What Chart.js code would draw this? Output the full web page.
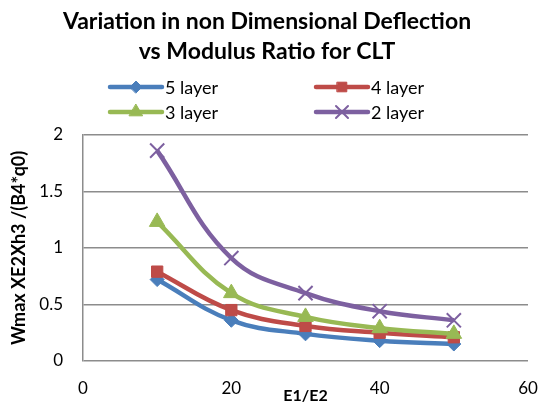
<!DOCTYPE html>
<html>
<head>
<meta charset="utf-8">
<script src="https://cdn.jsdelivr.net/npm/chart.js@4/dist/chart.umd.min.js"></script>
<style>
    html, body { margin: 0; padding: 0; background: #ffffff; }
    #wrap { width: 540px; height: 405px; position: relative; }
</style>
</head>
<body>
<div id="wrap"><canvas id="deflectionChart"></canvas></div>
<script>
// Chart data
const modulusRatio = [10, 20, 30, 40, 50];
const layer5 = [0.72, 0.36, 0.24, 0.18, 0.15];
const layer4 = [0.79, 0.45, 0.31, 0.25, 0.21];
const layer3 = [1.23, 0.60, 0.39, 0.29, 0.24];
const layer2 = [1.86, 0.91, 0.60, 0.44, 0.36];
const seriesNames = ['5 layer', '4 layer', '3 layer', '2 layer'];
const xTicks = [0, 20, 40, 60];
const yTicks = [0, 0.5, 1, 1.5, 2];

const FONT = 'Lato, "Open Sans", sans-serif';

function makeSeries(name, values, color, pointStyle, radius, order) {
    return {
        label: name,
        data: modulusRatio.map((x, i) => ({ x: x, y: values[i] })),
        borderColor: color,
        backgroundColor: color,
        pointBackgroundColor: color,
        pointBorderColor: color,
        pointStyle: pointStyle,
        pointRadius: radius,
        pointBorderWidth: pointStyle === 'crossRot' ? 2 : 1,
        borderWidth: 4.5,
        tension: 0.4,
        fill: false,
        order: order
    };
}

// Legend drawn as two columns, like the original
const legendPlugin = {
    id: 'twoColLegend',
    afterDraw(chart) {
        const ctx = chart.ctx;
        const colX = [110, 316];
        const rowY = [87, 112];
        chart.data.datasets.forEach((ds, i) => {
            const x0 = colX[i % 2];
            const y = rowY[Math.floor(i / 2)];
            ctx.save();
            ctx.strokeStyle = ds.borderColor;
            ctx.lineWidth = 4.5;
            ctx.lineCap = 'round';
            ctx.beginPath();
            ctx.moveTo(x0, y);
            ctx.lineTo(x0 + 52, y);
            ctx.stroke();
            ctx.fillStyle = ds.backgroundColor;
            ctx.strokeStyle = ds.borderColor;
            ctx.lineWidth = ds.pointBorderWidth;
            Chart.helpers.drawPoint(ctx, {
                pointStyle: ds.pointStyle,
                radius: ds.pointRadius * 0.85,
                rotation: 0,
                borderWidth: ds.pointBorderWidth
            }, x0 + 26, y);
            ctx.fillStyle = '#000000';
            ctx.font = '18px ' + FONT;
            ctx.textBaseline = 'middle';
            ctx.textAlign = 'left';
            ctx.fillText(ds.label, x0 + 55, y + 1);
            ctx.restore();
        });
    }
};

new Chart(document.getElementById('deflectionChart'), {
    type: 'line',
    data: {
        datasets: [
            makeSeries(seriesNames[0], layer5, '#4a7ebb', 'rectRot', 7, 4),
            makeSeries(seriesNames[1], layer4, '#be4b48', 'rect', 8, 3),
            makeSeries(seriesNames[2], layer3, '#98b954', 'triangle', 9, 2),
            makeSeries(seriesNames[3], layer2, '#7d60a0', 'crossRot', 10, 1)
        ]
    },
    options: {
        responsive: true,
        maintainAspectRatio: false,
        animation: false,
        layout: { padding: { left: 4, right: 10, top: 0, bottom: 0 } },
        plugins: {
            legend: { display: false },
            tooltip: { enabled: false },
            title: {
                display: true,
                text: ['Variation in non Dimensional Deflection', 'vs Modulus Ratio for CLT'],
                color: '#000000',
                font: { family: FONT, size: 23, weight: 'bold', lineHeight: 1.3 },
                padding: { top: 7, bottom: 68 }
            }
        },
        scales: {
            x: {
                type: 'linear',
                min: 0,
                max: 60,
                afterBuildTicks: (axis) => { axis.ticks = xTicks.map(v => ({ value: v })); },
                afterFit: (axis) => {
                    axis.height = 44;
                    axis.paddingLeft = 0;
                    axis.paddingRight = 0;
                },
                grid: { display: false, drawTicks: false },
                border: { display: false },
                ticks: { color: '#000000', font: { family: FONT, size: 17 }, padding: 17, maxRotation: 0 },
                title: {
                    display: true,
                    text: 'E1/E2',
                    color: '#000000',
                    font: { family: FONT, size: 16, weight: 'bold' },
                    padding: { top: 0, bottom: 0 }
                }
            },
            y: {
                min: 0,
                max: 2,
                afterBuildTicks: (axis) => { axis.ticks = yTicks.map(v => ({ value: v })); },
                afterFit: (axis) => { axis.width = 79; },
                grid: { color: '#8c8c8c', lineWidth: 1.5, drawTicks: false },
                border: { display: true, color: '#8c8c8c', width: 1.5 },
                ticks: {
                    color: '#000000',
                    font: { family: FONT, size: 17 },
                    padding: 20,
                    callback: (v) => String(v)
                },
                title: {
                    display: true,
                    text: 'Wmax XE2Xh3 /(B4*q0)',
                    color: '#000000',
                    font: { family: FONT, size: 18, weight: 'bold' },
                    padding: { top: 4, bottom: 4 }
                }
            }
        }
    },
    plugins: [legendPlugin]
});
</script>
</body>
</html>
